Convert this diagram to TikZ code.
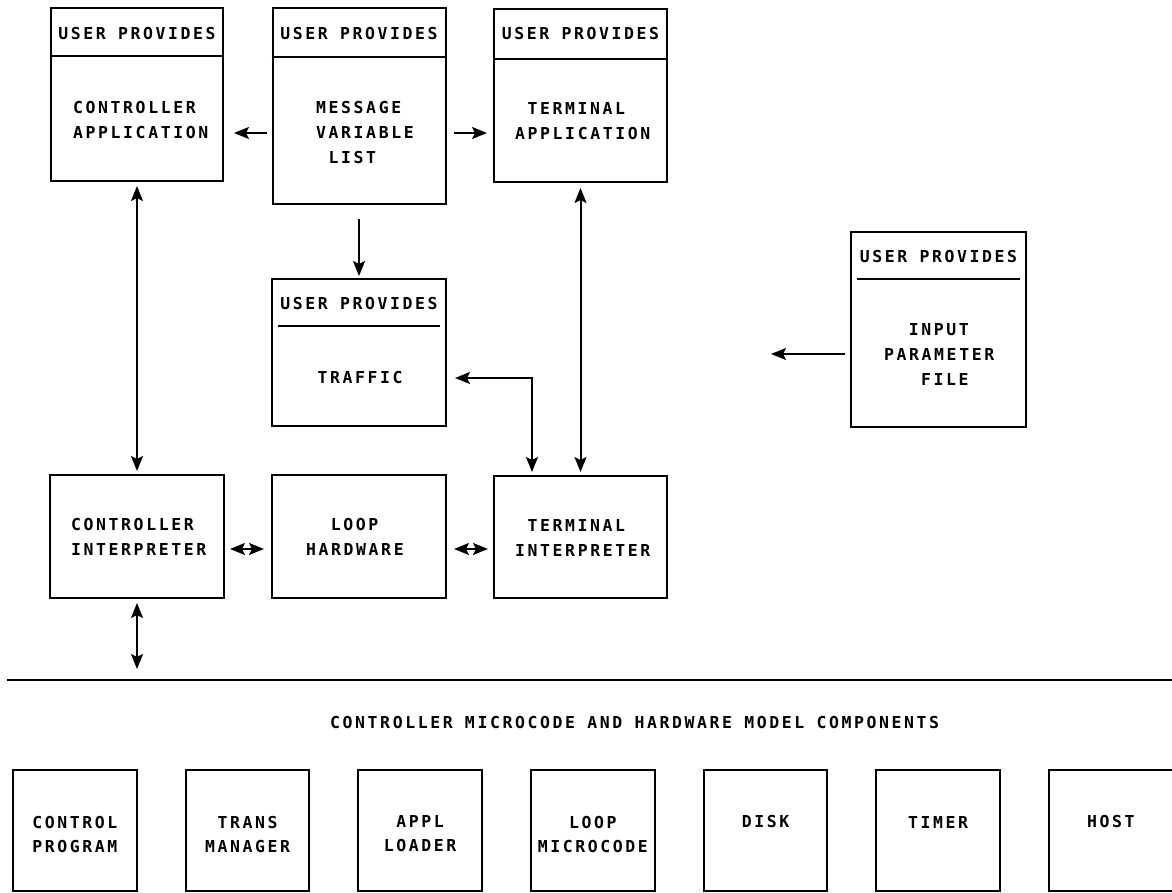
\documentclass[tikz,border=0pt]{standalone}
\usepackage{fontspec}
\newfontfamily\monof{DejaVu Sans Mono}[LetterSpace=15.8]
\usetikzlibrary{arrows.meta,calc}
\newcommand\chsp{\hspace*{12.3pt}}
\begin{document}
\begin{tikzpicture}[x=1pt,y=-1pt,
  box/.style={draw, line width=2pt, inner sep=0pt},
  txt/.style={font={\fontsize{16.46}{25}\monof\bfseries\spaceskip=12.3pt\relax}, inner sep=0pt, align=left},
  ctxt/.style={txt, align=center},
  tip/.tip={Stealth[length=15pt,width=12pt,inset=3pt]},
  conn/.style={line width=2pt, -tip},
  dbl/.style={line width=2pt, tip-tip},
  rule/.style={line width=2pt}]
\useasboundingbox (0,0) rectangle (1172,893);

% top row
\node[box, minimum width=172, minimum height=173] (ca) at (137,94.5) {};
\node[box, minimum width=173, minimum height=196] (m) at (359,106) {};
\node[box, minimum width=173, minimum height=173] (ta) at (580.5,95.5) {};
\node[box, minimum width=174, minimum height=147] (tr) at (359,352.5) {};
\node[box, minimum width=175, minimum height=195] (ip) at (938.5,329.5) {};
% middle row
\node[box, minimum width=174, minimum height=123] (ci) at (137,536.5) {};
\node[box, minimum width=174, minimum height=123] (lh) at (359,536.5) {};
\node[box, minimum width=173, minimum height=122] (ti) at (580.5,537) {};

% dividers
\draw[rule] ([yshift=-49pt]ca.north west) -- ([yshift=-49pt]ca.north east);
\draw[rule] ([yshift=-50pt]m.north west) -- ([yshift=-50pt]m.north east);
\draw[rule] ([yshift=-51pt]ta.north west) -- ([yshift=-51pt]ta.north east);
\draw[rule] ([xshift=7pt,yshift=-48pt]tr.north west) -- ([xshift=-7pt,yshift=-48pt]tr.north east);
\draw[rule] ([xshift=7pt,yshift=-48pt]ip.north west) -- ([xshift=-7pt,yshift=-48pt]ip.north east);

% texts
\node[txt] (cah) at (137,34) {USER PROVIDES};
\node[txt, anchor=west] (cab) at (73,120.5) {CONTROLLER\\APPLICATION};
\node[txt] (mh) at (359,34) {USER PROVIDES};
\node[txt, anchor=west] (mb) at (316,133) {MESSAGE\\VARIABLE\\\chsp LIST};
\node[txt] (tah) at (580.5,34) {USER PROVIDES};
\node[txt, anchor=west] (tab) at (515,121.5) {\chsp TERMINAL\\APPLICATION};
\node[txt] (trh) at (359,304) {USER PROVIDES};
\node[txt] (trb) at (360,378) {TRAFFIC};
\node[txt] (iph) at (938.5,257) {USER PROVIDES};
\node[txt, anchor=west] (ipb) at (884,354.5) {\chsp\chsp INPUT\\PARAMETER\\\chsp\chsp\chsp FILE};
\node[txt, anchor=west] (cib) at (71,537) {CONTROLLER\\INTERPRETER};
\node[txt, anchor=west] (lhb) at (306,537) {\chsp\chsp LOOP\\HARDWARE};
\node[txt, anchor=west] (tib) at (515,538) {\chsp TERMINAL\\INTERPRETER};

% connectors
\coordinate (ra) at (0,133);
\coordinate (rb) at (0,378);
\coordinate (rc) at (532,0);
\coordinate (rd) at (0,549);
\coordinate (ipend) at (771,354);
\coordinate (cidown) at (137,669);
\draw[dbl, shorten <=4pt, shorten >=3pt] (ca.south) -- (ci.north);
\draw[dbl, shorten <=5pt, shorten >=3pt] (ta.south) -- (ti.north);
\draw[conn, shorten <=14pt, shorten >=2pt] (m.south) -- (tr.north);
\draw[conn, shorten <=5pt, shorten >=10pt] (m.west |- ra) -- (ca.east |- ra);
\draw[conn, shorten <=7pt, shorten >=6pt] (m.east |- ra) -- (ta.west |- ra);
\draw[dbl, shorten <=8pt, shorten >=3pt] (tr.east |- rb) -| (rc |- ti.north);
\draw[conn, shorten <=5pt] (ip.west |- ipend) -- (ipend);
\draw[dbl, shorten <=5pt, shorten >=7pt] (ci.east |- rd) -- (lh.west |- rd);
\draw[dbl, shorten <=7pt, shorten >=5pt] (lh.east |- rd) -- (ti.west |- rd);
\draw[dbl, shorten <=4pt] (ci.south) -- (cidown);

% separator
\draw[rule] (7,680) -- (1172,680);
\node[txt, anchor=west] (hdr) at (330,723) {CONTROLLER MICROCODE AND HARDWARE MODEL COMPONENTS};

% bottom row
\node[box, minimum width=123.5, minimum height=121] (cp) at (74.8,830.5) {};
\node[box, minimum width=123.5, minimum height=121] (tm) at (247.5,830.5) {};
\node[box, minimum width=123.5, minimum height=121] (al) at (420,830.5) {};
\node[box, minimum width=123.5, minimum height=121] (lm) at (592.8,830.5) {};
\node[box, minimum width=123.5, minimum height=121] (dk) at (765.5,830.5) {};
\node[box, minimum width=123.5, minimum height=121] (tmr) at (938,830.5) {};
\node[box, minimum width=123.5, minimum height=121] (hs) at (1110.8,830.5) {};
\node[ctxt, font={\fontsize{16.46}{24}\monof\bfseries}] (cpt) at (74.8,834) {CONTROL\\PROGRAM};
\node[ctxt, font={\fontsize{16.46}{24}\monof\bfseries}] (tmt) at (247.5,834) {TRANS\\MANAGER};
\node[ctxt, font={\fontsize{16.46}{24}\monof\bfseries}] (alt) at (420,834) {APPL\\LOADER};
\node[ctxt, font={\fontsize{16.46}{24}\monof\bfseries}] (lmt) at (592.8,834) {LOOP\\MICROCODE};
\node[ctxt] (dkt) at (765.5,822) {DISK};
\node[ctxt] (tmrt) at (938,822) {TIMER};
\node[ctxt] (hst) at (1110.8,822) {HOST};
\end{tikzpicture}
\end{document}
